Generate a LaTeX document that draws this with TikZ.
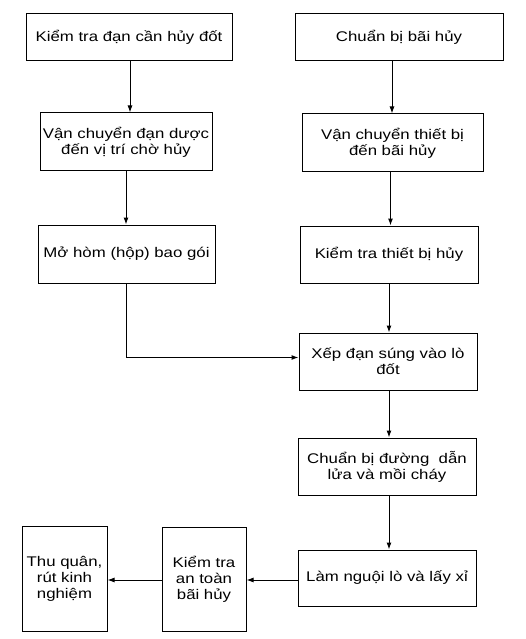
\documentclass[tikz,border=0pt]{standalone}
\usepackage{fontspec}
\setmainfont{Liberation Sans}[FakeStretch=1.2]
\usetikzlibrary{arrows.meta}

\begin{document}
\begin{tikzpicture}[x=1pt, y=-1pt, line width=1pt,
  box/.style={draw, align=center, inner sep=0pt, font=\fontsize{14}{16}\selectfont},
  arr/.style={-{Latex[length=7pt,width=5pt]}}]
\useasboundingbox (0,0) rectangle (525,639);
% left column
\node[box, minimum width=206pt, minimum height=47pt] (kiemtra) at (129,37.5) {Kiểm tra đạn cần hủy đốt};
\node[box, minimum width=172pt, minimum height=58pt] (vcdan) at (126,142) {Vận chuyển đạn dược\\đến vị trí chờ hủy};
\node[box, minimum width=177pt, minimum height=58pt] (mohom) at (126.5,254) {Mở hòm (hộp) bao gói};
% right column
\node[box, minimum width=208pt, minimum height=47pt] (chuanbi) at (399,37.5) {Chuẩn bị bãi hủy};
\node[box, minimum width=181pt, minimum height=58pt] (vctb) at (392.5,143) {Vận chuyển thiết bị\\đến bãi hủy};
\node[box, minimum width=178pt, minimum height=57pt] (kttb) at (389,254.5) {Kiểm tra thiết bị hủy};
\node[box, minimum width=178pt, minimum height=57pt] (xepdan) at (388,361.5) {Xếp đạn súng vào lò\\đốt};
\node[box, minimum width=178pt, minimum height=57pt] (danlua) at (387,466.5) {Chuẩn bị đường~ dẫn\\lửa và mồi cháy};
\node[box, minimum width=178pt, minimum height=56pt] (lamnguoi) at (387,578) {Làm nguội lò và lấy xỉ};
% bottom row
\node[box, minimum width=84pt, minimum height=104pt] (ktat) at (204,579) {Kiểm tra\\an toàn\\bãi hủy};
\node[box, minimum width=85pt, minimum height=105pt] (thuquan) at (64.5,578.5) {Thu quân,\\rút kinh\\nghiệm};
% arrows
\draw[arr] (kiemtra.south) ++(1,0) coordinate (k1) -- (k1 |- vcdan.north);
\draw[arr] (vcdan.south) -- (vcdan.south |- mohom.north);
\draw[arr] (chuanbi.south) ++(-7,0) coordinate (c1) -- (c1 |- vctb.north);
\draw[arr] (vctb.south) ++(-2,0) coordinate (v1) -- (v1 |- kttb.north);
\draw[arr] (kttb.south) -- (kttb.south |- xepdan.north);
\draw[arr] (xepdan.south) ++(1,0) coordinate (x1) -- (x1 |- danlua.north);
\draw[arr] (danlua.south) ++(2,0) coordinate (d1) -- (d1 |- lamnguoi.north);
\draw[arr] (mohom.south) |- ([yshift=4pt]xepdan.west);
\draw[arr] (lamnguoi.west) ++(0,2) coordinate (l1) -- (l1 -| ktat.east);
\draw[arr] (ktat.west) ++(0,1) coordinate (t1) -- (t1 -| thuquan.east);
\end{tikzpicture}
\end{document}
